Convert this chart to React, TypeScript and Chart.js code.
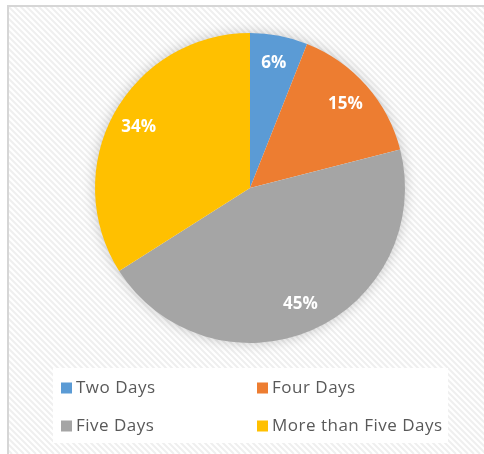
import React, { useEffect, useRef } from "react";
import { Chart, registerables } from "chart.js";

Chart.register(...registerables);

const categories = ["Two Days", "Four Days", "Five Days", "More than Five Days"];
const values = [6, 15, 45, 34];
const colors = ["#5B9BD5", "#ED7D31", "#A5A5A5", "#FFC000"];

const FONT = "'Open Sans', 'Noto Sans', sans-serif";

const bgPlugin = {
  id: "bgPlugin",
  beforeDraw(chart: any) {
    const { ctx, width, height } = chart;
    ctx.save();
    ctx.fillStyle = "#FFFFFF";
    ctx.fillRect(0, 0, width, height);
    ctx.beginPath();
    ctx.rect(9, 7, width - 9, height - 7);
    ctx.clip();
    ctx.strokeStyle = "#EFEFEF";
    ctx.lineWidth = 2;
    for (let k = -height; k < width + height; k += 6) {
      ctx.beginPath();
      ctx.moveTo(k, 0);
      ctx.lineTo(k + height, height);
      ctx.stroke();
    }
    ctx.restore();
    ctx.save();
    ctx.strokeStyle = "#D6D6D6";
    ctx.lineWidth = 2;
    ctx.beginPath();
    ctx.moveTo(8, height);
    ctx.lineTo(8, 6);
    ctx.lineTo(width, 6);
    ctx.stroke();
    // legend box
    ctx.fillStyle = "#FFFFFF";
    ctx.fillRect(53, 368, 395, 75);
    ctx.restore();
  },
  beforeDatasetsDraw(chart: any) {
    const meta = chart.getDatasetMeta(0);
    const arc = meta.data[0];
    if (!arc) return;
    const { x, y, outerRadius } = arc.getProps(["x", "y", "outerRadius"], true);
    const ctx = chart.ctx;
    ctx.save();
    ctx.shadowColor = "rgba(0,0,0,0.25)";
    ctx.shadowBlur = 14;
    ctx.fillStyle = "#FFFFFF";
    ctx.beginPath();
    ctx.arc(x, y, outerRadius - 1, 0, Math.PI * 2);
    ctx.fill();
    ctx.restore();
  },
  afterDatasetsDraw(chart: any) {
    const meta = chart.getDatasetMeta(0);
    const ctx = chart.ctx;
    const data = chart.data.datasets[0].data as number[];
    const total = data.reduce((a, b) => a + b, 0);
    ctx.save();
    ctx.fillStyle = "#FFFFFF";
    ctx.font = `bold 17px ${FONT}`;
    ctx.textAlign = "center";
    ctx.textBaseline = "middle";
    meta.data.forEach((el: any, i: number) => {
      const { x, y, startAngle, endAngle, outerRadius } = el.getProps(
        ["x", "y", "startAngle", "endAngle", "outerRadius"],
        true
      );
      const mid = (startAngle + endAngle) / 2;
      const r = outerRadius * 0.82;
      const pct = Math.round((data[i] / total) * 100);
      ctx.fillText(pct + "%", x + Math.cos(mid) * r, y + Math.sin(mid) * r);
    });
    ctx.restore();
  },
  afterDraw(chart: any) {
    const ctx = chart.ctx;
    const bg = chart.data.datasets[0].backgroundColor as string[];
    const labels = chart.data.labels as string[];
    const colX = [61, 257];
    const rowY = [388, 426];
    ctx.save();
    ctx.font = `17px ${FONT}`;
    (ctx as any).letterSpacing = "0.5px";
    ctx.textBaseline = "middle";
    ctx.textAlign = "left";
    labels.forEach((lab, i) => {
      const cx = colX[i % 2];
      const cy = rowY[Math.floor(i / 2)];
      ctx.fillStyle = bg[i];
      ctx.fillRect(cx, cy - 5.5, 11, 11);
      ctx.fillStyle = "#595959";
      ctx.fillText(lab, cx + 15, cy);
    });
    ctx.restore();
  },
};

export default function App() {
  const ref = useRef<HTMLCanvasElement | null>(null);
  useEffect(() => {
    document.body.style.margin = "0";
    if (!ref.current) return;
    const chart = new Chart(ref.current, {
      type: "pie",
      data: {
        labels: categories,
        datasets: [
          {
            data: values,
            backgroundColor: colors,
            borderWidth: 0,
          },
        ],
      },
      options: {
        responsive: false,
        animation: false,
        layout: { padding: { top: 33, bottom: 111, left: 95, right: 79 } },
        plugins: {
          legend: { display: false },
          tooltip: { enabled: false },
        },
      },
      plugins: [bgPlugin],
    });
    return () => chart.destroy();
  }, []);
  return (
    <div style={{ width: 484, height: 454 }}>
      <canvas ref={ref} width={484} height={454} style={{ display: "block" }} />
    </div>
  );
}
